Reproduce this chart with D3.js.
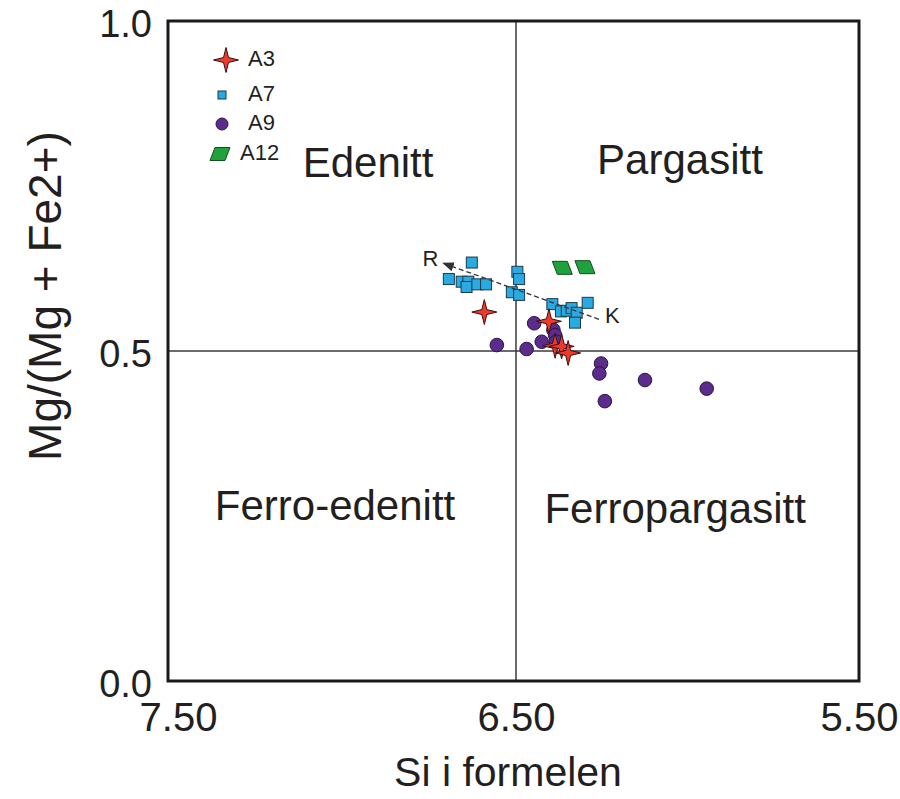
<!DOCTYPE html>
<html>
<head>
<meta charset="utf-8">
<script src="https://cdn.jsdelivr.net/npm/d3@7"></script>
<style>
  body { margin: 0; background: #fff; }
  text { font-family: "Liberation Sans", Arial, sans-serif; fill: #231f20; }
</style>
</head>
<body>
<script>
// amphibole classification, Si vs Mg/(Mg+Fe2+)
let a3 = [[6.591, 0.559], [6.404, 0.545], [6.386, 0.508], [6.367, 0.507], [6.348, 0.497]]
let a7 = [
  [6.693, 0.609], [6.627, 0.634], [6.656, 0.605], [6.637, 0.605], [6.642, 0.597],
  [6.611, 0.601], [6.586, 0.601], [6.496, 0.620], [6.491, 0.609], [6.512, 0.589],
  [6.491, 0.585], [6.394, 0.571], [6.369, 0.560], [6.352, 0.561], [6.338, 0.565],
  [6.323, 0.558], [6.328, 0.543], [6.291, 0.573]
]
let a9 = [
  [6.555, 0.509], [6.469, 0.503], [6.447, 0.542], [6.425, 0.514], [6.391, 0.532],
  [6.386, 0.524], [6.383, 0.514], [6.252, 0.481], [6.257, 0.466], [6.241, 0.424],
  [6.124, 0.456], [5.944, 0.443]
]
let a12 = [[6.365, 0.626], [6.299, 0.627]]
let trendKR = [[6.258, 0.548], [6.709, 0.633]]
let xTicks = [7.5, 6.5, 5.5]
let yTicks = [0, 0.5, 1]
let fields = [
  { name: 'Edenitt', x: 6.925, y: 0.780 },
  { name: 'Pargasitt', x: 6.022, y: 0.785 },
  { name: 'Ferro-edenitt', x: 7.020, y: 0.261 },
  { name: 'Ferropargasitt', x: 6.036, y: 0.256 }
]

let width = 900
let height = 799

let svg = d3.select('body')
  .append('svg')
  .attr('width', width)
  .attr('height', height)

let x = d3.scaleLinear().domain([7.5, 6.5, 5.5]).range([168, 516, 859])
let y = d3.scaleLinear().domain([0, 1]).range([681, 21])

// divider lines
svg.append('line')
  .attr('x1', x(6.5)).attr('x2', x(6.5))
  .attr('y1', y(0)).attr('y2', y(1))
  .attr('stroke', '#3a3a3a').attr('stroke-width', 1.5)
svg.append('line')
  .attr('x1', x(7.5)).attr('x2', x(5.5))
  .attr('y1', y(0.5)).attr('y2', y(0.5))
  .attr('stroke', '#3a3a3a').attr('stroke-width', 1.5)

svg.append('rect')
  .attr('x', x(7.5)).attr('y', y(1))
  .attr('width', x(5.5) - x(7.5)).attr('height', y(0) - y(1))
  .attr('fill', 'none').attr('stroke', '#1a1a1a').attr('stroke-width', 3)

// axes, labels only
let xAxis = svg.append('g')
  .attr('transform', 'translate(0,' + y(0) + ')')
  .call(d3.axisBottom(x).tickValues(xTicks).tickSize(0).tickPadding(22).tickFormat(d3.format('.2f')))
let yAxis = svg.append('g')
  .attr('transform', 'translate(' + x(7.5) + ',0)')
  .call(d3.axisLeft(y).tickValues(yTicks).tickSize(0).tickPadding(16).tickFormat(d3.format('.1f')))
svg.selectAll('.domain').remove()
xAxis.selectAll('.tick text')
  .attr('font-size', 40)
  .attr('dx', d => d === 7.5 ? 10 : 0)
yAxis.selectAll('.tick text')
  .attr('font-size', 38)
  .attr('dy', '0.4em')
svg.selectAll('.tick text')
  .attr('font-family', '"Liberation Sans", Arial, sans-serif')
  .attr('fill', '#231f20')

svg.append('text')
  .attr('x', 508).attr('y', 786)
  .attr('text-anchor', 'middle')
  .attr('font-size', 41)
  .text('Si i formelen')

svg.append('text')
  .attr('transform', 'translate(61,296) rotate(-90)')
  .attr('text-anchor', 'middle')
  .attr('font-size', 46)
  .text('Mg/(Mg + Fe2+)')

svg.selectAll('.field')
  .data(fields)
  .enter()
  .append('text')
  .attr('class', 'field')
  .attr('x', d => x(d.x))
  .attr('y', d => y(d.y))
  .attr('text-anchor', 'middle')
  .attr('dominant-baseline', 'middle')
  .attr('font-size', 42)
  .text(d => d.name)

// marker shapes
let starPts = []
for (let i = 0; i < 8; i++) {
  starPts.push([i * Math.PI / 4, i % 2 === 0 ? 12.5 : 3.5])
}
let starPath = d3.lineRadial().curve(d3.curveLinearClosed)(starPts)
let paraPlot = 'M-10,-6.5L5,-6.5L10,6.5L-5,6.5Z'
let paraLegend = 'M-5,-6.5L10,-6.5L5,6.5L-10,6.5Z'

svg.selectAll('.a7')
  .data(a7)
  .enter()
  .append('rect')
  .attr('class', 'a7')
  .attr('x', d => x(d[0]) - 5.5)
  .attr('y', d => y(d[1]) - 5.5)
  .attr('width', 11).attr('height', 11)
  .attr('fill', '#29abe2').attr('stroke', '#1b3a4b').attr('stroke-width', 1)

svg.selectAll('.a9')
  .data(a9)
  .enter()
  .append('circle')
  .attr('class', 'a9')
  .attr('cx', d => x(d[0]))
  .attr('cy', d => y(d[1]))
  .attr('r', 6.8)
  .attr('fill', '#5b2c8c').attr('stroke', '#2a1540').attr('stroke-width', 1)

svg.selectAll('.a3')
  .data(a3)
  .enter()
  .append('path')
  .attr('class', 'a3')
  .attr('d', starPath)
  .attr('transform', d => 'translate(' + x(d[0]) + ',' + y(d[1]) + ')')
  .attr('fill', '#ee3a2c').attr('stroke', '#3a1010').attr('stroke-width', 1)

svg.selectAll('.a12')
  .data(a12)
  .enter()
  .append('path')
  .attr('class', 'a12')
  .attr('d', paraPlot)
  .attr('transform', d => 'translate(' + x(d[0]) + ',' + y(d[1]) + ')')
  .attr('fill', '#1ea33c').attr('stroke', '#144d20').attr('stroke-width', 1)

// K -> R trend arrow
svg.append('defs').append('marker')
  .attr('id', 'arrow')
  .attr('viewBox', '0 0 10 10')
  .attr('refX', 9).attr('refY', 5)
  .attr('markerWidth', 9).attr('markerHeight', 9)
  .attr('orient', 'auto')
  .append('path')
  .attr('d', 'M0,1L10,5L0,9Z')
  .attr('fill', '#333')
svg.append('path')
  .datum(trendKR)
  .attr('d', d3.line().x(d => x(d[0])).y(d => y(d[1])))
  .attr('fill', 'none')
  .attr('stroke', '#333').attr('stroke-width', 1.3)
  .attr('stroke-dasharray', '5,3')
  .attr('marker-end', 'url(#arrow)')
svg.append('text')
  .attr('x', x(trendKR[1][0]) - 5).attr('y', y(trendKR[1][1]) - 3)
  .attr('text-anchor', 'end')
  .attr('dominant-baseline', 'middle')
  .attr('font-size', 22)
  .text('R')
svg.append('text')
  .attr('x', x(trendKR[0][0]) + 6).attr('y', y(trendKR[0][1]) - 2)
  .attr('dominant-baseline', 'middle')
  .attr('font-size', 22)
  .text('K')

// legend
let legendItems = [
  { label: 'A3', y: 60 },
  { label: 'A7', y: 95 },
  { label: 'A9', y: 124 },
  { label: 'A12', y: 154 }
]
let lg = svg.append('g')
lg.append('path').attr('d', starPath)
  .attr('transform', 'translate(226,' + legendItems[0].y + ')')
  .attr('fill', '#ee3a2c').attr('stroke', '#3a1010').attr('stroke-width', 1)
lg.append('rect')
  .attr('x', 218).attr('y', legendItems[1].y - 4)
  .attr('width', 8).attr('height', 8)
  .attr('fill', '#29abe2').attr('stroke', '#1b3a4b').attr('stroke-width', 1)
lg.append('circle')
  .attr('cx', 222).attr('cy', legendItems[2].y).attr('r', 6)
  .attr('fill', '#5b2c8c').attr('stroke', '#2a1540').attr('stroke-width', 1)
lg.append('path').attr('d', paraLegend)
  .attr('transform', 'translate(220,' + legendItems[3].y + ')')
  .attr('fill', '#1ea33c').attr('stroke', '#144d20').attr('stroke-width', 1)
lg.selectAll('text')
  .data(legendItems)
  .enter()
  .append('text')
  .attr('x', (d, i) => i === 3 ? 240 : 248)
  .attr('y', d => d.y)
  .attr('dominant-baseline', 'middle')
  .attr('font-size', 22)
  .text(d => d.label)
</script>
</body>
</html>
